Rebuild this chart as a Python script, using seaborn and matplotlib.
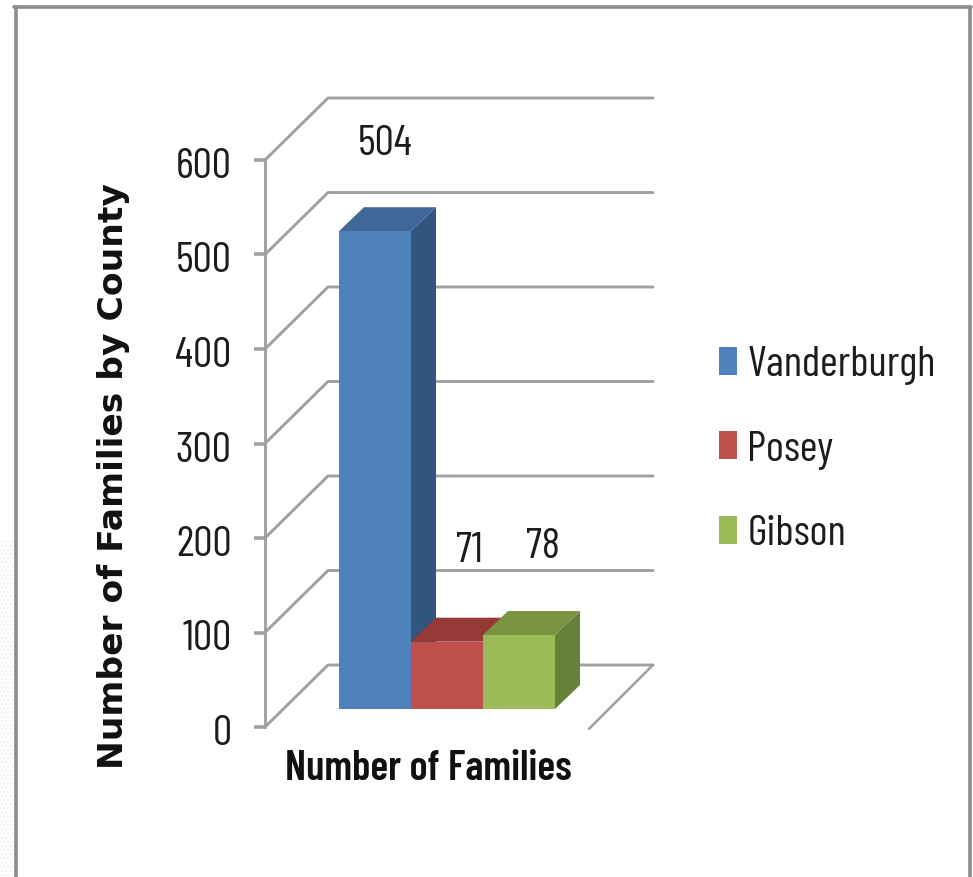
import pandas as pd
import matplotlib
matplotlib.use("Agg")
import matplotlib.pyplot as plt
import seaborn as sns
from matplotlib.lines import Line2D
from matplotlib.patches import Polygon, Rectangle
from matplotlib.transforms import ScaledTranslation

counties = ["Vanderburgh", "Posey", "Gibson"]
families = [504, 71, 78]
axis_ticks = [0, 100, 200, 300, 400, 500, 600]

front_colors = ["#4f81bd", "#c0504d", "#9bbb59"]
top_colors = ["#3f6797", "#963a38", "#7a9440"]
side_colors = ["#31557f", "#7d2f2d", "#67803a"]
GRID = "#a0a0a0"
TEXT = "#1c1c1c"
NARROW = ["Barlow Condensed", "Lato", "DejaVu Sans"]

W, H = 973, 877


def box(left, top, right, bottom):
    # pixel box (y down) -> figure fractions
    return [left / W, 1 - bottom / H, (right - left) / W, (bottom - top) / H]


sns.set_theme(style="white")
fig = plt.figure(figsize=(W / 100, H / 100), dpi=100, facecolor="white")

# grey slide frame, open at the bottom
for xs, ys in [((16, 16), (877, 7)), ((14, 971), (7, 7)), ((970, 970), (7, 877))]:
    fig.add_artist(Line2D([x / W for x in xs], [1 - y / H for y in ys], color="#8c8c8c", lw=2.6))
fig.add_artist(Rectangle((0, 0), 13 / W, 1 - 540 / H, transform=fig.transFigure,
                         facecolor="white", edgecolor="#f0f0f0", hatch="....", lw=0))

# back wall and front axis: x in pixels, y in families
PX_PER_FAMILY = 0.945
DEPTH_X = 63
DEPTH_Y = 62 / PX_PER_FAMILY
WALL_RIGHT = 388

wall = fig.add_axes(box(265, 727 - PX_PER_FAMILY * (600 + DEPTH_Y), 265 + WALL_RIGHT, 727))
wall.patch.set_visible(False)
wall.set_xlim(0, WALL_RIGHT)
wall.set_ylim(0, 600 + DEPTH_Y)
for v in axis_ticks:
    wall.plot([0, DEPTH_X, WALL_RIGHT], [v, v + DEPTH_Y, v + DEPTH_Y], color=GRID, lw=2.1, clip_on=False)
wall.plot([WALL_RIGHT, WALL_RIGHT - 64], [DEPTH_Y, -2], color=GRID, lw=1.8, clip_on=False)
sns.despine(ax=wall, bottom=True, right=True, top=True)
wall.spines["left"].set_bounds(0, 600)
wall.spines["left"].set_color(GRID)
wall.spines["left"].set_linewidth(2.1)
wall.set_xticks([])
wall.set_yticks(axis_ticks)
wall.tick_params(axis="y", left=True, length=8, width=2.6, color=GRID, pad=16, labelsize=31, labelcolor=TEXT)
nudge = ScaledTranslation(0, -3 / 100, fig.dpi_scale_trans)
for label in wall.get_yticklabels():
    label.set_family(NARROW)
    label.set_transform(label.get_transform() + nudge)

# bars
BAR_SCALE = 0.948
ax = fig.add_axes(box(339, 709 - BAR_SCALE * 600, 555, 709))
ax.patch.set_visible(False)
df = pd.DataFrame({"county": counties, "families": families})
sns.barplot(data=df, x="county", y="families", hue="county", hue_order=counties,
            palette=front_colors, saturation=1, width=1, dodge=False, legend=True,
            linewidth=0, ax=ax)
ax.set_xlim(-0.5, 2.5)
ax.set_ylim(0, 600)
ax.axis("off")

bar_dx = 25 / 72
bar_dy = 24 / BAR_SCALE
bars = sorted([b for b in ax.patches if b.get_height() > 0], key=lambda b: b.get_x())
for i, bar in enumerate(bars):
    x0, x1, top = bar.get_x(), bar.get_x() + bar.get_width(), bar.get_height()
    z = 3 + i * 3
    ax.add_patch(Polygon([(x1, 0), (x1 + bar_dx, bar_dy), (x1 + bar_dx, top + bar_dy), (x1, top)],
                         facecolor=side_colors[i], lw=0, zorder=z, clip_on=False))
    ax.add_patch(Polygon([(x0, top), (x0 + bar_dx, top + bar_dy), (x1 + bar_dx, top + bar_dy), (x1, top)],
                         facecolor=top_colors[i], lw=0, zorder=z + 1, clip_on=False))
    bar.set_zorder(z + 2)

# data labels float above and behind the bars
label_shift = [(10, 87), (22, 90), (24, 88)]
for i, bar in enumerate(bars):
    ax.annotate(str(families[i]), (bar.get_x() + bar.get_width() / 2, bar.get_height()),
                xytext=label_shift[i], textcoords="offset pixels", ha="center", va="center",
                fontsize=31, color=TEXT, family=NARROW, annotation_clip=False, zorder=20)

sns.move_legend(ax, loc="center left", bbox_to_anchor=(719 / W, 1 - 450 / H),
                bbox_transform=fig.transFigure, title=None, frameon=False,
                prop={"family": NARROW, "size": 31}, labelcolor=TEXT,
                handlelength=0.42, handleheight=0.62, handletextpad=0.24,
                labelspacing=1.05, borderpad=0, borderaxespad=0)

fig.text(428 / W, 1 - 769 / H, "Number of Families", ha="center", va="center",
         fontsize=30, fontweight=600, color="#111111", family=NARROW)
fig.text(114 / W, 1 - 476 / H, "Number of Families by County", ha="center", va="center",
         rotation=90, fontsize=24.8, fontweight="bold", color="#111111", family="DejaVu Sans")

fig.savefig("out.png", dpi=100)
